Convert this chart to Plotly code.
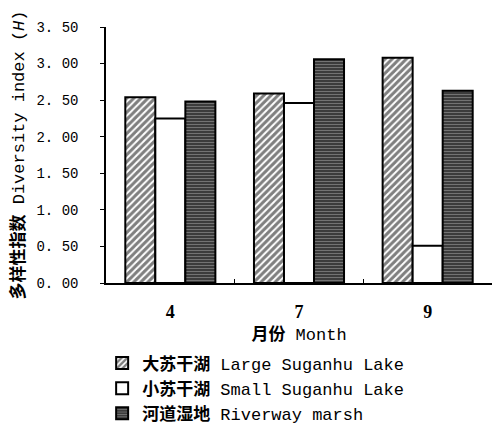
import plotly.graph_objects as go

months = ["4", "7", "9"]
large_lake = [2.54, 2.59, 3.08]
small_lake = [2.25, 2.46, 0.51]
riverway = [2.48, 3.06, 2.63]
names = ["<b>大苏干湖</b> Large Suganhu Lake",
         "<b>小苏干湖</b> Small Suganhu Lake",
         "<b>河道湿地</b> Riverway marsh"]
y_ticks = [0, 0.5, 1, 1.5, 2, 2.5, 3, 3.5]
y_ticktext = ["0. 00", "0. 50", "1. 00", "1. 50", "2. 00", "2. 50", "3. 00", "3. 50"]

MONO = "Liberation Mono, Noto Sans CJK SC, monospace"

fig = go.Figure()
fig.add_trace(go.Bar(
    x=months, y=large_lake, name=names[0],
    marker=dict(color="white", line=dict(color="black", width=2),
                pattern=dict(shape="/", fgcolor="black", bgcolor="white", size=5, solidity=0.6)),
))
fig.add_trace(go.Bar(
    x=months, y=small_lake, name=names[1],
    marker=dict(color="white", line=dict(color="black", width=2)),
))
fig.add_trace(go.Bar(
    x=months, y=riverway, name=names[2],
    marker=dict(color="#3c3c3c", line=dict(color="black", width=2),
                pattern=dict(shape="-", fgcolor="#cfcfcf", bgcolor="#3c3c3c", size=3, solidity=0.25)),
))

fig.update_layout(
    width=492, height=426,
    margin=dict(l=106, r=0, t=27, b=143, autoexpand=False),
    paper_bgcolor="white", plot_bgcolor="white",
    barmode="group", bargap=0.3, bargroupgap=0,
    font=dict(family=MONO, size=15, color="black"),
    showlegend=True,
    legend=dict(x=-0.01, xref="paper", y=0.189, yref="container", xanchor="left", yanchor="top",
                font=dict(family=MONO, size=17, color="black"),
                tracegroupgap=0, itemwidth=30, bgcolor="rgba(0,0,0,0)"),
    xaxis=dict(type="category", showline=True, linecolor="black", linewidth=1.5,
               ticks="inside", tickson="boundaries", ticklen=4, tickcolor="black",
               ticklabelstandoff=12,
               tickfont=dict(family="Liberation Serif, serif", size=18, color="black", weight="bold"),
               title=dict(text="<b>月份</b> Month", font=dict(family=MONO, size=17), standoff=10),
               showgrid=False, zeroline=False),
    yaxis=dict(range=[0, 3.5], tickvals=y_ticks, ticktext=y_ticktext,
               showline=True, linecolor="black", linewidth=1.5,
               ticks="outside", ticklen=4, tickcolor="black",
               ticklabelstandoff=19,
               tickfont=dict(family=MONO, size=14, color="black"),
               title=dict(text="<b>多样性指数</b> Diversity index (<i>H</i>)",
                          font=dict(family=MONO, size=17), standoff=7),
               showgrid=False, zeroline=False),
)

fig.write_html("out.html", config={"displayModeBar": False},
               post_script="document.body.style.margin='0';document.body.style.padding='0';")
